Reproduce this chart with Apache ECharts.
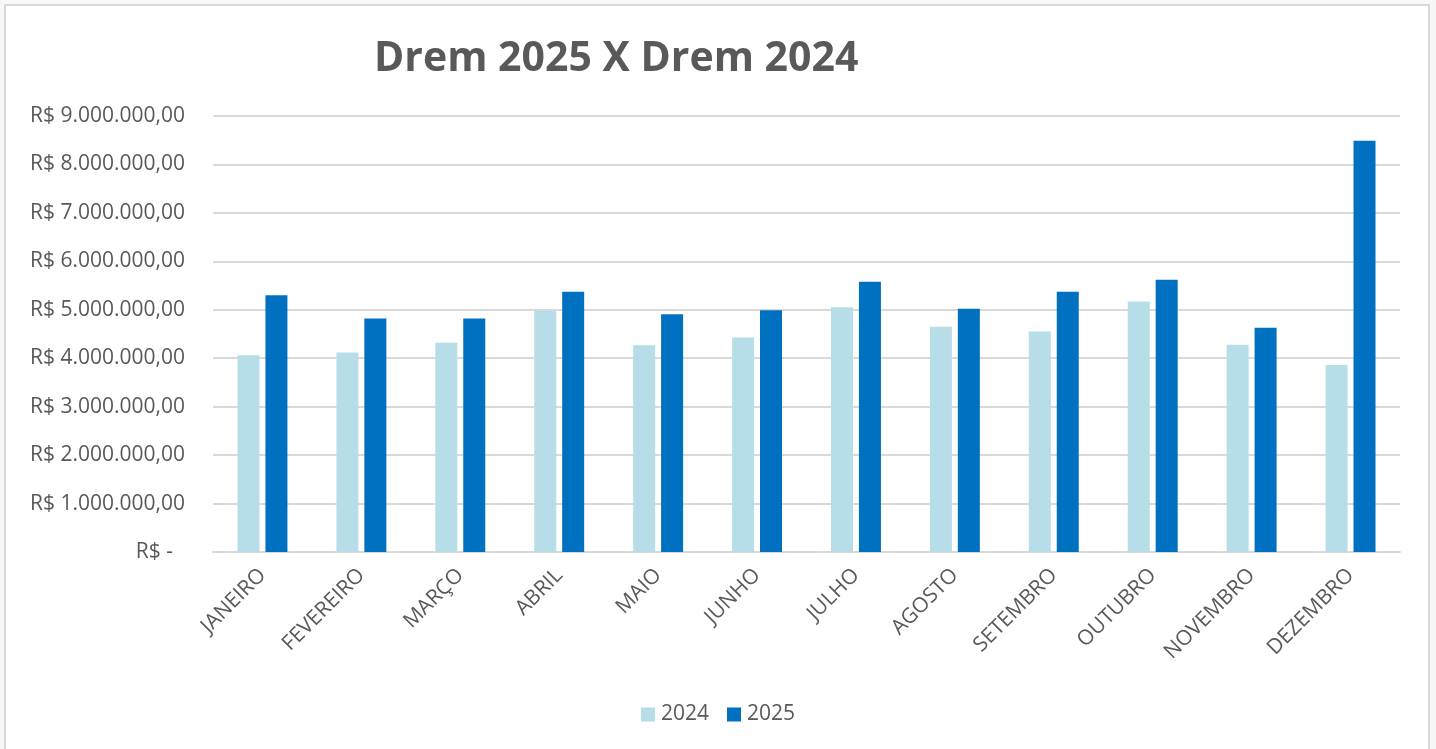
<!DOCTYPE html>
<html>
<head>
<meta charset="utf-8">
<script src="https://cdn.jsdelivr.net/npm/echarts@6/dist/echarts.min.js"></script>
<style>
    html, body {
        margin: 0;
        padding: 0;
        width: 1436px;
        height: 749px;
        overflow: hidden;
        background: #f7f7f7;
    }
    .frame {
        position: absolute;
        left: 4px;
        top: 4px;
        width: 1422px;
        height: 800px;
        border: 2px solid #d9d9d9;
        background: #ffffff;
    }
    #chart {
        position: absolute;
        left: 0;
        top: 0;
        width: 1436px;
        height: 749px;
    }
</style>
</head>
<body>
<div class="frame"></div>
<div id="chart"></div>
<script>
// dados
const meses = ["JANEIRO", "FEVEREIRO", "MARÇO", "ABRIL", "MAIO", "JUNHO",
    "JULHO", "AGOSTO", "SETEMBRO", "OUTUBRO", "NOVEMBRO", "DEZEMBRO"];
const valores2024 = [4060000, 4120000, 4320000, 4980000, 4270000, 4430000,
    5050000, 4650000, 4550000, 5170000, 4280000, 3860000];
const valores2025 = [5300000, 4820000, 4820000, 5370000, 4910000, 4990000,
    5580000, 5020000, 5370000, 5620000, 4630000, 8490000];
const seriesNames = ["2024", "2025"];

const textColor = "#595959";
const fontFamily = "'Open Sans', 'Noto Sans', sans-serif";

function formatReal(value) {
    if (value === 0) {
        return "{z|R$ -}";
    }
    let s = String(Math.round(value)).replace(/\B(?=(\d{3})+(?!\d))/g, ".");
    return "R$ " + s + ",00";
}

let myChart = echarts.init(document.getElementById("chart"));

let option = {
    backgroundColor: "transparent",
    title: {
        text: "Drem 2025 X Drem 2024",
        left: 369,
        top: 34,
        textStyle: {
            color: textColor,
            fontFamily: fontFamily,
            fontWeight: "bold",
            fontSize: 41,
        },
    },
    legend: {
        data: seriesNames,
        left: "center",
        top: 699,
        itemWidth: 14,
        itemHeight: 14,
        itemGap: 18,
        icon: "rect",
        textStyle: {
            color: textColor,
            fontFamily: fontFamily,
            fontSize: 21,
            padding: [0, 0, 0, 1],
        },
    },
    grid: {
        left: 213,
        right: 36,
        top: 116,
        bottom: 197,
    },
    xAxis: {
        type: "category",
        data: meses,
        axisLine: {
            show: true,
            lineStyle: { color: "#d9d9d9", width: 2 },
        },
        axisTick: { show: false },
        axisLabel: {
            rotate: 45,
            margin: 20,
            interval: 0,
            color: textColor,
            fontFamily: fontFamily,
            fontSize: 21,
        },
    },
    yAxis: {
        type: "value",
        min: 0,
        max: 9000000,
        interval: 1000000,
        axisLine: { show: false },
        axisTick: { show: false },
        splitLine: {
            lineStyle: { color: "#d9d9d9", width: 2 },
        },
        axisLabel: {
            margin: 28,
            color: textColor,
            fontFamily: fontFamily,
            fontSize: 21,
            formatter: formatReal,
            rich: {
                z: {
                    color: textColor,
                    fontFamily: fontFamily,
                    fontSize: 21,
                    padding: [0, 12, 0, 0],
                },
            },
        },
    },
    series: [
        {
            name: seriesNames[0],
            type: "bar",
            barWidth: 22,
            barGap: "27%",
            itemStyle: { color: "#b7dde8" },
            data: valores2024,
        },
        {
            name: seriesNames[1],
            type: "bar",
            barWidth: 22,
            barGap: "27%",
            itemStyle: { color: "#0070c0" },
            data: valores2025,
        },
    ],
};

myChart.setOption(option);
</script>
</body>
</html>
